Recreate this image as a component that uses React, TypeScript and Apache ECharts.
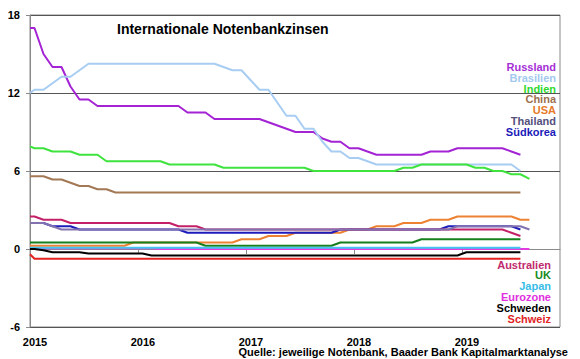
import React, { useEffect, useRef } from "react";
import * as echarts from "echarts";

// Monthly policy rates. Index 0 = value on 1 Jan 2015, then one value per month (mid-month), Jan 2015 onwards.
const russland = [17,
  17, 15, 14, 14, 12.5, 11.5, 11.5, 11, 11, 11, 11, 11,
  11, 11, 11, 11, 11, 10.5, 10.5, 10.5, 10, 10, 10, 10,
  10, 10, 9.75, 9.5, 9.25, 9, 9, 9, 8.5, 8.25, 8.25, 7.75,
  7.75, 7.5, 7.25, 7.25, 7.25, 7.25, 7.25, 7.25, 7.5, 7.5, 7.5, 7.75,
  7.75, 7.75, 7.75, 7.75, 7.75, 7.5, 7.25];
const brasilien = [12,
  12.25, 12.25, 12.75, 13.25, 13.25, 13.75, 14.25, 14.25, 14.25, 14.25, 14.25, 14.25,
  14.25, 14.25, 14.25, 14.25, 14.25, 14.25, 14.25, 14.25, 14.25, 14, 13.75, 13.75,
  13, 12.25, 12.25, 11.25, 10.25, 10.25, 9.25, 9.25, 8.25, 7.5, 7.5, 7,
  7, 6.75, 6.5, 6.5, 6.5, 6.5, 6.5, 6.5, 6.5, 6.5, 6.5, 6.5,
  6.5, 6.5, 6.5, 6.5, 6.5, 6.5, 6];
const indien = [7.9,
  7.75, 7.75, 7.5, 7.5, 7.5, 7.25, 7.25, 7.25, 6.75, 6.75, 6.75, 6.75,
  6.75, 6.75, 6.75, 6.5, 6.5, 6.5, 6.5, 6.5, 6.5, 6.25, 6.25, 6.25,
  6.25, 6.25, 6.25, 6.25, 6.25, 6.25, 6.25, 6, 6, 6, 6, 6,
  6, 6, 6, 6, 6, 6.25, 6.25, 6.5, 6.5, 6.5, 6.5, 6.5,
  6.5, 6.25, 6.25, 6, 6, 5.75, 5.75, 5.4];
const china = [5.6,
  5.6, 5.6, 5.35, 5.35, 5.1, 4.85, 4.85, 4.6, 4.6, 4.35, 4.35, 4.35,
  4.35, 4.35, 4.35, 4.35, 4.35, 4.35, 4.35, 4.35, 4.35, 4.35, 4.35, 4.35,
  4.35, 4.35, 4.35, 4.35, 4.35, 4.35, 4.35, 4.35, 4.35, 4.35, 4.35, 4.35,
  4.35, 4.35, 4.35, 4.35, 4.35, 4.35, 4.35, 4.35, 4.35, 4.35, 4.35, 4.35,
  4.35, 4.35, 4.35, 4.35, 4.35, 4.35, 4.35];
const usa = [0.25,
  0.25, 0.25, 0.25, 0.25, 0.25, 0.25, 0.25, 0.25, 0.25, 0.25, 0.25, 0.5,
  0.5, 0.5, 0.5, 0.5, 0.5, 0.5, 0.5, 0.5, 0.5, 0.5, 0.5, 0.75,
  0.75, 0.75, 1, 1, 1, 1.25, 1.25, 1.25, 1.25, 1.25, 1.25, 1.5,
  1.5, 1.5, 1.75, 1.75, 1.75, 2, 2, 2, 2.25, 2.25, 2.25, 2.5,
  2.5, 2.5, 2.5, 2.5, 2.5, 2.5, 2.25, 2.25];
const thailand = [2,
  2, 2, 1.75, 1.5, 1.5, 1.5, 1.5, 1.5, 1.5, 1.5, 1.5, 1.5,
  1.5, 1.5, 1.5, 1.5, 1.5, 1.5, 1.5, 1.5, 1.5, 1.5, 1.5, 1.5,
  1.5, 1.5, 1.5, 1.5, 1.5, 1.5, 1.5, 1.5, 1.5, 1.5, 1.5, 1.5,
  1.5, 1.5, 1.5, 1.5, 1.5, 1.5, 1.5, 1.5, 1.5, 1.5, 1.5, 1.75,
  1.75, 1.75, 1.75, 1.75, 1.75, 1.75, 1.75, 1.5];
const suedkorea = [2,
  2, 2, 1.75, 1.75, 1.75, 1.5, 1.5, 1.5, 1.5, 1.5, 1.5, 1.5,
  1.5, 1.5, 1.5, 1.5, 1.5, 1.25, 1.25, 1.25, 1.25, 1.25, 1.25, 1.25,
  1.25, 1.25, 1.25, 1.25, 1.25, 1.25, 1.25, 1.25, 1.25, 1.25, 1.5, 1.5,
  1.5, 1.5, 1.5, 1.5, 1.5, 1.5, 1.5, 1.5, 1.5, 1.5, 1.75, 1.75,
  1.75, 1.75, 1.75, 1.75, 1.75, 1.75, 1.5];
const australien = [2.5,
  2.5, 2.25, 2.25, 2.25, 2, 2, 2, 2, 2, 2, 2, 2,
  2, 2, 2, 2, 1.75, 1.75, 1.75, 1.5, 1.5, 1.5, 1.5, 1.5,
  1.5, 1.5, 1.5, 1.5, 1.5, 1.5, 1.5, 1.5, 1.5, 1.5, 1.5, 1.5,
  1.5, 1.5, 1.5, 1.5, 1.5, 1.5, 1.5, 1.5, 1.5, 1.5, 1.5, 1.5,
  1.5, 1.5, 1.5, 1.5, 1.5, 1.25, 1];
const uk = [0.5,
  0.5, 0.5, 0.5, 0.5, 0.5, 0.5, 0.5, 0.5, 0.5, 0.5, 0.5, 0.5,
  0.5, 0.5, 0.5, 0.5, 0.5, 0.5, 0.5, 0.25, 0.25, 0.25, 0.25, 0.25,
  0.25, 0.25, 0.25, 0.25, 0.25, 0.25, 0.25, 0.25, 0.25, 0.25, 0.5, 0.5,
  0.5, 0.5, 0.5, 0.5, 0.5, 0.5, 0.5, 0.75, 0.75, 0.75, 0.75, 0.75,
  0.75, 0.75, 0.75, 0.75, 0.75, 0.75, 0.75];
const japan = [0.1,
  0.1, 0.1, 0.1, 0.1, 0.1, 0.1, 0.1, 0.1, 0.1, 0.1, 0.1, 0.1,
  0.1, 0.1, 0.1, 0.1, 0.1, 0.1, 0.1, 0.1, 0.1, 0.1, 0.1, 0.1,
  0.1, 0.1, 0.1, 0.1, 0.1, 0.1, 0.1, 0.1, 0.1, 0.1, 0.1, 0.1,
  0.1, 0.1, 0.1, 0.1, 0.1, 0.1, 0.1, 0.1, 0.1, 0.1, 0.1, 0.1,
  0.1, 0.1, 0.1, 0.1, 0.1, 0.1, 0.1];
const eurozone = [0.05,
  0.05, 0.05, 0.05, 0.05, 0.05, 0.05, 0.05, 0.05, 0.05, 0.05, 0.05, 0.05,
  0.05, 0.05, 0, 0, 0, 0, 0, 0, 0, 0, 0, 0,
  0, 0, 0, 0, 0, 0, 0, 0, 0, 0, 0, 0,
  0, 0, 0, 0, 0, 0, 0, 0, 0, 0, 0, 0,
  0, 0, 0, 0, 0, 0, 0, 0];
const schweden = [0,
  0, -0.1, -0.25, -0.25, -0.25, -0.25, -0.35, -0.35, -0.35, -0.35, -0.35, -0.35,
  -0.35, -0.5, -0.5, -0.5, -0.5, -0.5, -0.5, -0.5, -0.5, -0.5, -0.5, -0.5,
  -0.5, -0.5, -0.5, -0.5, -0.5, -0.5, -0.5, -0.5, -0.5, -0.5, -0.5, -0.5,
  -0.5, -0.5, -0.5, -0.5, -0.5, -0.5, -0.5, -0.5, -0.5, -0.5, -0.5, -0.5,
  -0.25, -0.25, -0.25, -0.25, -0.25, -0.25, -0.25];
const schweiz = [-0.4,
  -0.75, -0.75, -0.75, -0.75, -0.75, -0.75, -0.75, -0.75, -0.75, -0.75, -0.75, -0.75,
  -0.75, -0.75, -0.75, -0.75, -0.75, -0.75, -0.75, -0.75, -0.75, -0.75, -0.75, -0.75,
  -0.75, -0.75, -0.75, -0.75, -0.75, -0.75, -0.75, -0.75, -0.75, -0.75, -0.75, -0.75,
  -0.75, -0.75, -0.75, -0.75, -0.75, -0.75, -0.75, -0.75, -0.75, -0.75, -0.75, -0.75,
  -0.75, -0.75, -0.75, -0.75, -0.75, -0.75, -0.75];

const startYear = 2015;
const yTicks = [-6, 0, 6, 12, 18];

const seriesDefs = [
  { name: "Russland", data: russland, color: "#a423d4", text: "#a52fd6" },
  { name: "Brasilien", data: brasilien, color: "#a8cdf2", text: "#a3c9ef" },
  { name: "Indien", data: indien, color: "#3ee33e", text: "#2fd82f" },
  { name: "China", data: china, color: "#a27855", text: "#9c7050" },
  { name: "USA", data: usa, color: "#ec8232", text: "#e67a28" },
  { name: "Südkorea", data: suedkorea, color: "#1c1cbc", text: "#1a1ab8" },
  { name: "Australien", data: australien, color: "#c42068", text: "#bf2a6c" },
  { name: "Thailand", data: thailand, color: "#8272b0", text: "#54507c" },
  { name: "UK", data: uk, color: "#15801c", text: "#188a1c" },
  { name: "Eurozone", data: eurozone, color: "#e03ce0", text: "#e030e0" },
  { name: "Japan", data: japan, color: "#44c4f0", text: "#38bde8" },
  { name: "Schweden", data: schweden, color: "#000000", text: "#000000" },
  { name: "Schweiz", data: schweiz, color: "#e42222", text: "#e02424" },
];

const topLabels = ["Russland", "Brasilien", "Indien", "China", "USA", "Thailand", "Südkorea"];
const bottomLabels = ["Australien", "UK", "Japan", "Eurozone", "Schweden", "Schweiz"];

const FONT = '"Liberation Sans", Arial, Helvetica, sans-serif';

export default function App() {
  const ref = useRef<HTMLDivElement>(null);
  useEffect(() => {
    document.body.style.margin = "0";
    if (!ref.current) return;
    const chart = echarts.init(ref.current, undefined, { renderer: "svg" });
    const pos = (k: number) => (k === 0 ? 0 : k - 0.5);
    const colorOf = (n: string) => seriesDefs.find((s) => s.name === n)!.text;
    const topY = [66.5, 77.5, 88.5, 99.2, 110, 121, 132.2];
    const botY = [264.5, 275.3, 286.1, 296.9, 307.7, 318.5];
    const labelStyle = (text: string, x: number, y: number) => ({
      type: "text",
      x,
      y,
      z: 100,
      style: {
        text,
        fill: colorOf(text),
        font: `bold 11px ${FONT}`,
        align: "right",
        verticalAlign: "middle",
        textAlign: "right",
        textVerticalAlign: "middle",
      },
    });
    chart.setOption({
      animation: false,
      backgroundColor: "#ffffff",
      grid: {
        left: 30,
        right: 20,
        top: 15,
        bottom: 32,
        show: true,
        borderColor: "#8a8a8a",
        borderWidth: 1,
      },
      xAxis: {
        type: "value",
        min: 0,
        max: 58.9,
        interval: 12,
        axisLine: { show: true, lineStyle: { color: "#8a8a8a", width: 1 } },
        axisTick: { show: true, length: 5, lineStyle: { color: "#8a8a8a" } },
        splitLine: { show: false },
        axisLabel: {
          showMaxLabel: false,
          formatter: (v: number) => String(startYear + Math.round(v / 12)),
          color: "#000",
          fontWeight: "bold",
          fontSize: 11,
          fontFamily: FONT,
          margin: 9,
          padding: [0, 0, 0, 10],
        },
      },
      yAxis: {
        type: "value",
        min: yTicks[0],
        max: yTicks[yTicks.length - 1],
        interval: 6,
        axisLine: { show: true, lineStyle: { color: "#8a8a8a", width: 1 } },
        axisTick: { show: true, length: 4, lineStyle: { color: "#8a8a8a" } },
        splitLine: { show: true, lineStyle: { color: "#555555", width: 1 } },
        axisLabel: {
          color: "#000",
          fontWeight: "bold",
          fontSize: 11,
          fontFamily: FONT,
          margin: 10,
        },
      },
      series: seriesDefs.map((s) => ({
        name: s.name,
        type: "line",
        showSymbol: false,
        symbol: "none",
        data: s.data.map((v, k) => [pos(k), v]),
        lineStyle: { color: s.color, width: 2 },
        itemStyle: { color: s.color },
      })),
      graphic: [
        {
          type: "text",
          x: 117,
          y: 29,
          style: {
            text: "Internationale Notenbankzinsen",
            fill: "#000",
            font: `bold 14px ${FONT}`,
            align: "left",
            verticalAlign: "middle",
            textAlign: "left",
            textVerticalAlign: "middle",
          },
        },
        ...topLabels.map((t, i) => labelStyle(t, 556, topY[i])),
        ...bottomLabels.map((t, i) => labelStyle(t, 551, botY[i])),
        {
          type: "text",
          x: 568,
          y: 352,
          style: {
            text: "Quelle: jeweilige Notenbank, Baader Bank Kapitalmarktanalyse",
            fill: "#000",
            font: `bold 11px ${FONT}`,
            align: "right",
            verticalAlign: "middle",
            textAlign: "right",
            textVerticalAlign: "middle",
          },
        },
      ],
    });
    return () => chart.dispose();
  }, []);
  return (
    <div
      ref={ref}
      style={{ position: "absolute", left: 0, top: 0, width: 580, height: 359, background: "#fff" }}
    />
  );
}
